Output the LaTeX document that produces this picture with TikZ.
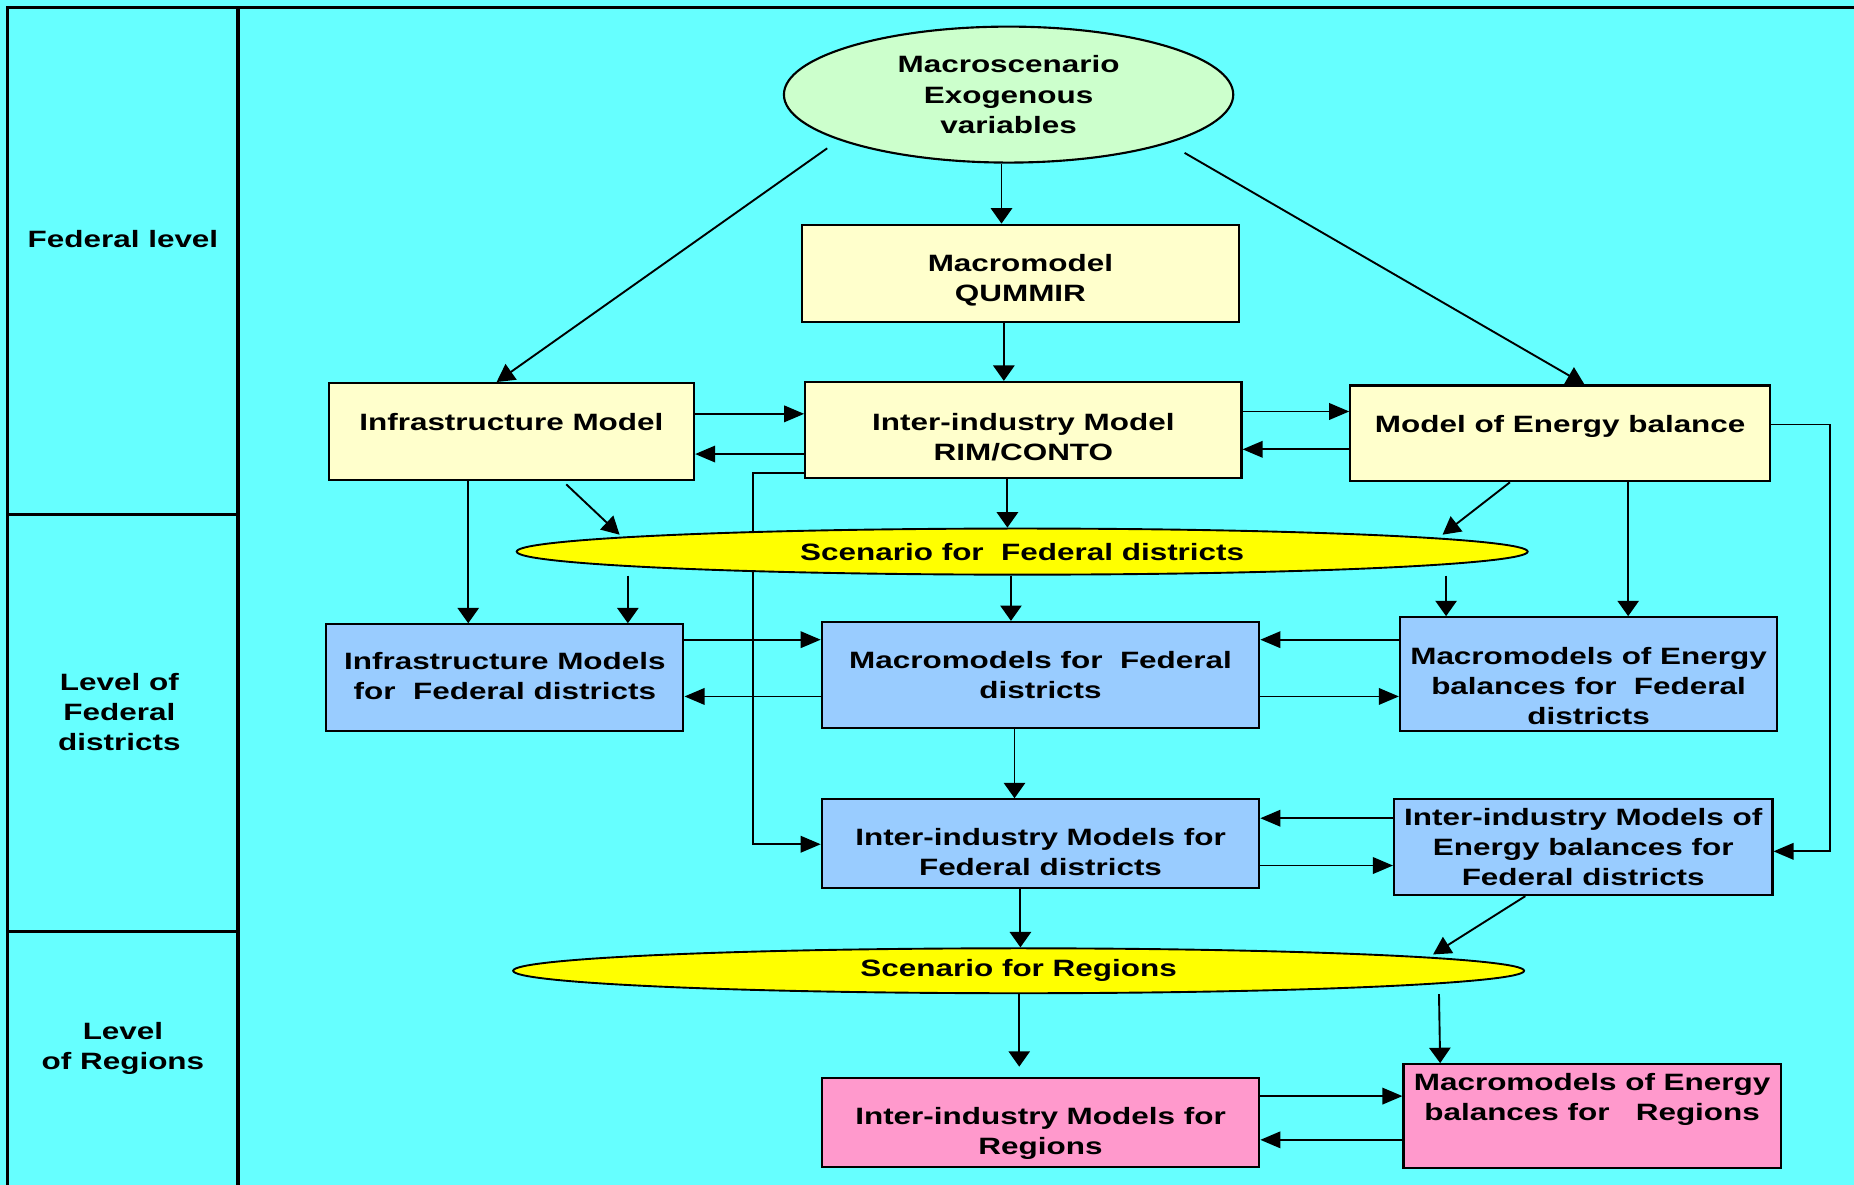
\documentclass[tikz,border=0pt]{standalone}
\usepackage{fontspec}
\setmainfont{Liberation Sans}[FakeStretch=1.33]
\usetikzlibrary{arrows.meta,shapes.geometric}
\definecolor{bgcyan}{RGB}{102,255,255}
\definecolor{fedyel}{RGB}{255,255,204}
\definecolor{exogreen}{RGB}{204,255,204}
\definecolor{distblue}{RGB}{153,204,255}
\definecolor{regpink}{RGB}{255,153,204}
\definecolor{scenyel}{RGB}{255,255,0}

\begin{document}
\begin{tikzpicture}[x=0.5pt,y=-0.5pt,
  txt/.style={font=\fontsize{10}{12.75}\selectfont\bfseries,align=center},
  box/.style={draw,line width=0.9pt,inner sep=0pt},
  fed/.style={box,fill=fedyel},
  dist/.style={box,fill=distblue},
  reg/.style={box,fill=regpink},
  scen/.style={txt,ellipse,draw,line width=0.8pt,fill=scenyel,inner sep=0pt},
  arr/.style={line width=0.8pt,-{Triangle[length=7.5pt,width=8pt]}},
  harr/.style={line width=0.8pt,-{Triangle[length=8.5pt,width=7pt]}},
  varr/.style={line width=0.8pt,-{Triangle[length=6.5pt,width=9pt]}}]

  % background and level frame
  \fill[bgcyan] (0,0) rectangle (1568,1002);
  \useasboundingbox (0,0) rectangle (1568,1002);
  \draw[line width=1.4pt] (1580,6.5) -- (6.5,6.5) -- (6.5,1010);
  \draw[line width=1.7pt] (201,6.5) -- (201,1010);
  \draw[line width=1.4pt] (6.5,435) -- (201,435) (6.5,788) -- (201,788);

  \node[txt] (lvlfed) at (104,202) {Federal level};
  \node[txt] (lvldist) at (101,602) {Level of\\Federal\\districts};
  \node[txt] (lvlreg) at (104,887) {Level\\of Regions};

  % federal level
  \node[txt,ellipse,draw,line width=0.9pt,fill=exogreen,inner sep=0pt,
    minimum width=190pt,minimum height=57.5pt] (macro) at (853,80)
    {Macroscenario\\Exogenous\\variables};
  \node[fed,minimum width=185pt,minimum height=41pt] (qummir) at (863,231) {};
  \node[txt] (qummirT) at (863,237) {Macromodel\\QUMMIR};
  \node[fed,minimum width=154.5pt,minimum height=41pt] (infra) at (432.5,365) {};
  \node[txt] (infraT) at (432.5,357) {Infrastructure Model};
  \node[fed,minimum width=184.5pt,minimum height=40.5pt] (inter) at (865.5,363.5) {};
  \node[txt] (interT) at (865.5,369.5) {Inter-industry Model\\RIM/CONTO};
  \node[fed,minimum width=177.5pt,minimum height=40.5pt] (energy) at (1319.5,366.5) {};
  \node[txt] (energyT) at (1319.5,361) {Model of Energy balance};

  % federal districts
  \node[dist,minimum width=151pt,minimum height=45pt] (infraFD) at (427,573) {};
  \node[txt] (infraFDT) at (427,572) {Infrastructure Models\\for \ Federal districts};
  \node[dist,minimum width=185pt,minimum height=45pt] (macroFD) at (880,571) {};
  \node[txt] (macroFDT) at (880,571) {Macromodels for \ Federal\\districts};
  \node[dist,minimum width=159.5pt,minimum height=48pt] (energyFD) at (1343.5,570) {};
  \node[txt] (energyFDT) at (1343.5,580)
    {Macromodels of Energy\\balances for \ Federal\\districts};
  \node[dist,minimum width=185pt,minimum height=37.5pt] (interFD) at (880,713.5) {};
  \node[txt] (interFDT) at (880,720.5) {Inter-industry Models for\\Federal districts};
  \node[dist,minimum width=160pt,minimum height=40.5pt] (ieFD) at (1339,716.5) {};
  \node[txt] (ieFDT) at (1339,716.5)
    {Inter-industry Models of\\Energy balances for\\Federal districts};

  % regions
  \node[reg,minimum width=185pt,minimum height=37.5pt] (interReg) at (880,949.5) {};
  \node[txt] (interRegT) at (880,958.5) {Inter-industry Models for\\Regions};
  \node[reg,minimum width=159.5pt,minimum height=44pt] (energyReg) at (1346.5,944) {};
  \node[txt] (energyRegT) at (1346.5,930) {Macromodels of Energy\\balances for \ \ Regions};

  % link running behind the scenario ellipse
  \coordinate (iL) at (637,400);
  \draw[harr] (inter.west |- iL) -- (iL) |- (interFD.west |- 0,714);

  \node[scen,minimum width=427.5pt,minimum height=19.5pt] (scenFD) at (864.5,466.5)
    {Scenario for \ Federal districts};
  \node[scen,minimum width=427.5pt,minimum height=19pt] (scenReg) at (861.5,821)
    {Scenario for Regions};

  % arrows from the macroscenario
  \draw[arr,shorten <=6pt] (macro.195) -- (infra.north -| 420,0);
  \draw[varr] (macro.south -| 847,0) -- (qummir.north -| 847,0);
  \draw[arr,shorten <=8pt] (macro.343) -- (energy.north -| 1340,0);
  \draw[varr] (qummir.south -| 849,0) -- (inter.north -| 849,0);

  % federal models among themselves
  \draw[harr] (infra.east |- 0,350) -- (inter.west |- 0,350);
  \draw[harr] (inter.west |- 0,384) -- (infra.east |- 0,384);
  \draw[harr] (inter.east |- 0,348) -- (energy.west |- 0,348);
  \draw[harr] (energy.west |- 0,380) -- (inter.east |- 0,380);
  \coordinate (eR) at (1548,359);
  \draw[harr] (energy.east |- eR) -- (eR) |- (ieFD.east |- 0,720);

  % down to the scenario for federal districts
  \draw[varr] (infra.south -| 396,0) -- (infraFD.north -| 396,0);
  \draw[arr,shorten <=2pt] (infra.south -| 476,0) -- ([yshift=-3pt]scenFD.north -| 524,0);
  \draw[varr] (inter.south -| 852,0) -- (scenFD.north -| 852,0);
  \draw[arr] (energy.south -| 1277,0) -- ([yshift=-3pt]scenFD.north -| 1220,0);
  \draw[varr] (energy.south -| 1377,0) -- (energyFD.north -| 1377,0);

  % scenario for federal districts to the district models
  \draw[varr] (scenFD.south -| 531,0) -- (infraFD.north -| 531,0);
  \draw[varr] (scenFD.south -| 855,0) -- (macroFD.north -| 855,0);
  \draw[varr] (scenFD.south -| 1223,0) -- (energyFD.north -| 1223,0);

  % district models among themselves
  \draw[harr] (infraFD.east |- 0,541) -- (macroFD.west |- 0,541);
  \draw[harr] (macroFD.west |- 0,589) -- (infraFD.east |- 0,589);
  \draw[harr] (energyFD.west |- 0,541) -- (macroFD.east |- 0,541);
  \draw[harr] (macroFD.east |- 0,589) -- (energyFD.west |- 0,589);
  \draw[varr] (macroFD.south -| 858,0) -- (interFD.north -| 858,0);
  \draw[harr] (ieFD.west |- 0,692) -- (interFD.east |- 0,692);
  \draw[harr] (interFD.east |- 0,732) -- (ieFD.west |- 0,732);

  % down to the regions
  \draw[varr] (interFD.south -| 863,0) -- (scenReg.north -| 863,0);
  \draw[arr] (ieFD.south -| 1290,0) -- ([yshift=-3pt]scenReg.north -| 1212,0);
  \draw[varr,shorten >=4.5pt] (scenReg.south -| 862,0) -- (interReg.north -| 862,0);
  \draw[varr] (scenReg.south -| 1217,0) -- (energyReg.north -| 1218,0);
  \draw[harr] (interReg.east |- 0,927) -- (energyReg.west |- 0,927);
  \draw[harr] (energyReg.west |- 0,964) -- (interReg.east |- 0,964);
\end{tikzpicture}
\end{document}
